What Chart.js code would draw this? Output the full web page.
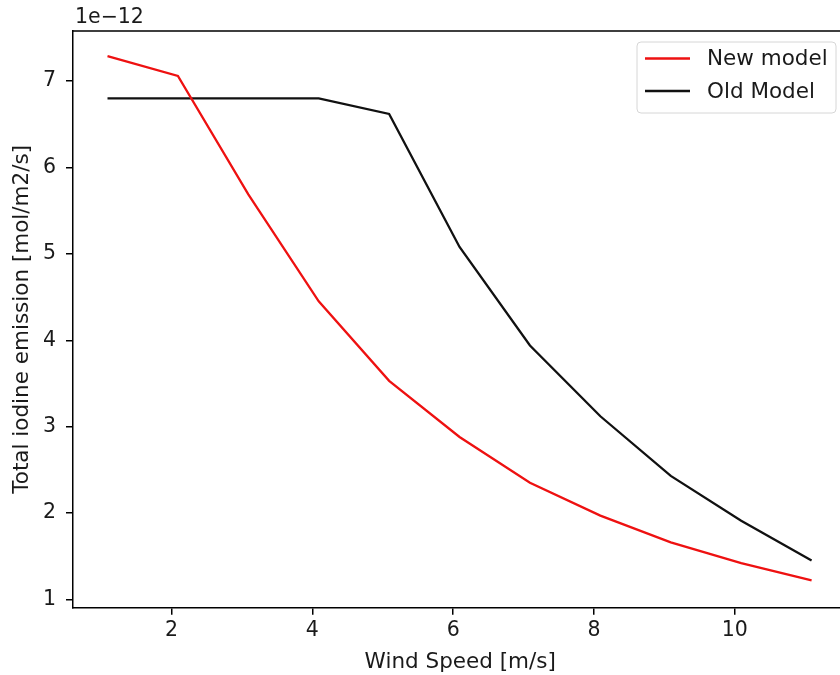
<!DOCTYPE html>
<html>
<head>
<meta charset="utf-8">
<script src="https://cdn.jsdelivr.net/npm/chart.js@4/dist/chart.umd.min.js"></script>
<style>
  html, body { margin: 0; padding: 0; background: #fff; overflow: hidden; width: 840px; height: 675px; }
  #wrap { position: absolute; left: 0; top: 0; width: 900px; height: 675px; }
</style>
</head>
<body>
<div id="wrap"><canvas id="c" width="900" height="675"></canvas></div>
<script>
// ---- data (values in units of 1e-12 mol/m2/s) ----
const windSpeed = [1.09, 2.09, 3.09, 4.09, 5.09, 6.09, 7.09, 8.09, 9.09, 10.09, 11.09];
const newModel  = [7.29, 7.06, 5.69, 4.45, 3.53, 2.88, 2.35, 1.97, 1.66, 1.42, 1.22];
const oldModel  = [6.80, 6.80, 6.80, 6.80, 6.62, 5.08, 3.94, 3.12, 2.43, 1.91, 1.45];
const xTicks = [2, 4, 6, 8, 10];
const yTicks = [1, 2, 3, 4, 5, 6, 7];
const seriesNames = ["New model", "Old Model"];
const xTitle = "Wind Speed [m/s]";
const yTitle = "Total iodine emission [mol/m2/s]";
const offsetLabel = "1e\u221212";

const FONT = "'DejaVu Sans', sans-serif";
const TXT = '#1a1a1a';

const framePlugin = {
  id: 'frame',
  afterDraw(chart) {
    const ctx = chart.ctx, a = chart.chartArea;
    ctx.save();
    ctx.strokeStyle = '#000';
    ctx.lineWidth = 1.5;
    ctx.beginPath();
    ctx.moveTo(a.left, a.top);
    ctx.lineTo(a.right, a.top);
    ctx.lineTo(a.right, a.bottom);
    ctx.stroke();
    // offset label
    ctx.fillStyle = TXT;
    ctx.font = "20.5px " + FONT;
    ctx.textAlign = 'left';
    ctx.textBaseline = 'alphabetic';
    ctx.fillText(offsetLabel, a.left + 2, 23);
    // legend
    const bx = 637, by = 42, bw = 199, bh = 71, r = 4;
    ctx.fillStyle = 'rgba(255,255,255,0.8)';
    ctx.strokeStyle = '#d6d6d6';
    ctx.lineWidth = 1;
    ctx.beginPath();
    ctx.moveTo(bx + r, by);
    ctx.lineTo(bx + bw - r, by);
    ctx.quadraticCurveTo(bx + bw, by, bx + bw, by + r);
    ctx.lineTo(bx + bw, by + bh - r);
    ctx.quadraticCurveTo(bx + bw, by + bh, bx + bw - r, by + bh);
    ctx.lineTo(bx + r, by + bh);
    ctx.quadraticCurveTo(bx, by + bh, bx, by + bh - r);
    ctx.lineTo(bx, by + r);
    ctx.quadraticCurveTo(bx, by, bx + r, by);
    ctx.closePath();
    ctx.fill();
    ctx.stroke();
    const ys = [58.5, 91];
    ctx.font = "21.5px " + FONT;
    ctx.textBaseline = 'middle';
    chart.data.datasets.forEach((d, i) => {
      ctx.strokeStyle = d.borderColor;
      ctx.lineWidth = 2.3;
      ctx.beginPath();
      ctx.moveTo(645, ys[i]);
      ctx.lineTo(690, ys[i]);
      ctx.stroke();
      ctx.fillStyle = TXT;
      ctx.fillText(d.label, 707, ys[i] + 1);
    });
    ctx.restore();
  }
};

new Chart(document.getElementById('c'), {
  type: 'line',
  data: {
    datasets: [
      { label: seriesNames[0], data: windSpeed.map((x, i) => ({ x, y: newModel[i] })),
        borderColor: '#ee1111', borderWidth: 2.3, pointRadius: 0, tension: 0, fill: false },
      { label: seriesNames[1], data: windSpeed.map((x, i) => ({ x, y: oldModel[i] })),
        borderColor: '#111111', borderWidth: 2.3, pointRadius: 0, tension: 0, fill: false }
    ]
  },
  options: {
    responsive: false,
    animation: false,
    events: [],
    layout: { padding: { left: 0, top: 31, right: 52.5, bottom: 0 } },
    plugins: { legend: { display: false }, tooltip: { enabled: false } },
    scales: {
      x: {
        type: 'linear', min: 0.6, max: 11.6,
        afterBuildTicks: s => { s.ticks = xTicks.map(v => ({ value: v })); },
        afterFit: s => { s.height = 67.3; },
        grid: { display: true, drawOnChartArea: false, drawTicks: true, tickLength: 7, color: '#000', lineWidth: 1.5 },
        border: { display: true, color: '#000', width: 1.5 },
        ticks: { color: TXT, padding: 4, font: { family: FONT, size: 20.5 }, maxRotation: 0 },
        title: { display: true, text: xTitle, color: TXT, font: { family: FONT, size: 21.5 }, padding: { top: 2, bottom: 0 } }
      },
      y: {
        type: 'linear', min: 0.904, max: 7.58,
        afterBuildTicks: s => { s.ticks = yTicks.map(v => ({ value: v })); },
        afterFit: s => { s.width = 73; },
        grid: { display: true, drawOnChartArea: false, drawTicks: true, tickLength: 7, color: '#000', lineWidth: 1.5 },
        border: { display: true, color: '#000', width: 1.5 },
        ticks: { color: TXT, padding: 10, font: { family: FONT, size: 20.5 } },
        title: { display: true, text: yTitle, color: TXT, font: { family: FONT, size: 21.5 }, padding: { top: 10, bottom: 0 } }
      }
    }
  },
  plugins: [framePlugin]
});
</script>
</body>
</html>
